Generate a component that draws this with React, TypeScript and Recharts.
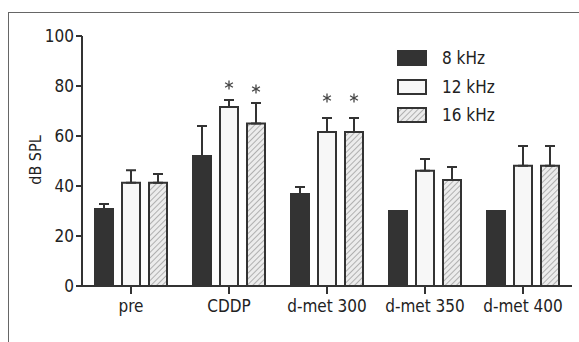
import { BarChart, Bar, XAxis, YAxis, ErrorBar, LabelList } from 'recharts'

const groups = ['pre', 'CDDP', 'd-met 300', 'd-met 350', 'd-met 400']
const khz8 = [30.8, 52, 36.8, 30, 30]
const khz8Err = [2, 12, 2.8, 0, 0]
const khz12 = [41.3, 71.6, 61.6, 46.1, 48.1]
const khz12Err = [5, 2.8, 5.6, 4.7, 7.9]
const khz16 = [41.3, 65, 61.6, 42.4, 48.1]
const khz16Err = [3.5, 8.2, 5.6, 5.2, 7.9]
// asterisk level (dB) where significant, null otherwise
const star12 = [null, 80.4, 75.2, null, null]
const star16 = [null, 78.8, 75.2, null, null]
const yTicks = [0, 20, 40, 60, 80, 100]

const FONT = '"DejaVu Sans Condensed", "DejaVu Sans", sans-serif'
const INK = '#333'

const data = groups.map((g, i) => ({
  group: g,
  k8: khz8[i], e8: [0, khz8Err[i]],
  k12: khz12[i], e12: [0, khz12Err[i]],
  k16: khz16[i], e16: [0, khz16Err[i]],
  s12: star12[i], s16: star16[i],
}))

const series = [
  { key: 'k8', name: '8 kHz', fill: '#333333' },
  { key: 'k12', name: '12 kHz', fill: '#f7f7f7' },
  { key: 'k16', name: '16 kHz', fill: 'url(#hatch)' },
]

// draws a six-armed asterisk at the given level, scaled from the bar's own geometry
const Star = (props: any) => {
  const { x, y, width, height, index, levels, vals } = props
  const lvl = levels[index]
  if (lvl == null) return null
  const base = y + height
  const cy = base - (lvl * height) / vals[index]
  const cx = x + width / 2
  const r = 4.5
  return (
    <g stroke="#444" strokeWidth={1.3}>
      <line x1={cx} y1={cy - r} x2={cx} y2={cy + r} />
      <line x1={cx - r * 0.87} y1={cy - r / 2} x2={cx + r * 0.87} y2={cy + r / 2} />
      <line x1={cx - r * 0.87} y1={cy + r / 2} x2={cx + r * 0.87} y2={cy - r / 2} />
    </g>
  )
}

const LegendBox = () => (
  <div style={{ position: 'absolute', left: 397, top: 44, fontFamily: FONT, fontStretch: 'condensed', fontSize: 17, color: '#222' }}>
    {series.map((s) => (
      <div key={s.key} style={{ display: 'flex', alignItems: 'center', height: 28.5 }}>
        <svg width={30} height={16} style={{ marginRight: 15 }}>
          <rect x={1} y={1} width={28} height={14} fill={s.fill} stroke={INK} strokeWidth={2} />
        </svg>
        <span>{s.name}</span>
      </div>
    ))}
  </div>
)

export default function App() {
  return (
    <div style={{ position: 'absolute', left: 0, top: 0, width: 579, height: 342, background: '#fff', overflow: 'hidden' }}>
      <div style={{ position: 'absolute', left: 8, top: 12, right: -2, bottom: -2, borderTop: '1px solid #666', borderLeft: '1px solid #666' }} />
      <svg width={0} height={0} style={{ position: 'absolute' }}>
        <defs>
          <pattern id="hatch" width={4} height={4} patternUnits="userSpaceOnUse" patternTransform="rotate(45)">
            <rect width={4} height={4} fill="#ececec" />
            <line x1={0} y1={0} x2={0} y2={4} stroke="#b0b0b0" strokeWidth={2} />
          </pattern>
        </defs>
      </svg>
      <div style={{ position: 'absolute', left: 0, top: 0 }}>
        <BarChart width={579} height={342} data={data} margin={{ top: 36, right: 7, bottom: 20, left: 0 }} barSize={18} barGap={9}>
          <XAxis
            dataKey="group"
            height={36}
            axisLine={{ stroke: INK, strokeWidth: 2 }}
            tickLine={{ stroke: INK, strokeWidth: 2 }}
            tickSize={8}
            tickMargin={6}
            tick={{ fill: '#222', fontSize: 17, fontFamily: FONT, style: { fontStretch: 'condensed' } }}
          />
          <YAxis
            width={82}
            domain={[0, 100]}
            ticks={yTicks}
            axisLine={{ stroke: INK, strokeWidth: 2 }}
            tickLine={{ stroke: INK, strokeWidth: 2 }}
            tickSize={6}
            tick={{ fill: '#222', fontSize: 17, fontFamily: FONT, style: { fontStretch: 'condensed' } }}
            label={{
              content: () => (
                <text x={41} y={160} transform="rotate(-90, 41, 160)" textAnchor="middle" fontSize={16} fontFamily={FONT} fill="#222" style={{ fontStretch: 'condensed' }}>
                  dB SPL
                </text>
              ),
            }}
          />
          <Bar dataKey="k8" name="8 kHz" fill="#333333" stroke={INK} strokeWidth={2} isAnimationActive={false}>
            <ErrorBar dataKey="e8" width={5} stroke={INK} strokeWidth={2} />
          </Bar>
          <Bar dataKey="k12" name="12 kHz" fill="#f7f7f7" stroke={INK} strokeWidth={2} isAnimationActive={false}>
            <ErrorBar dataKey="e12" width={5} stroke={INK} strokeWidth={2} />
            <LabelList dataKey="s12" content={(p: any) => <Star {...p} levels={star12} vals={khz12} />} />
          </Bar>
          <Bar dataKey="k16" name="16 kHz" fill="url(#hatch)" stroke={INK} strokeWidth={2} isAnimationActive={false}>
            <ErrorBar dataKey="e16" width={5} stroke={INK} strokeWidth={2} />
            <LabelList dataKey="s16" content={(p: any) => <Star {...p} levels={star16} vals={khz16} />} />
          </Bar>
        </BarChart>
      </div>
      <LegendBox />
    </div>
  )
}
